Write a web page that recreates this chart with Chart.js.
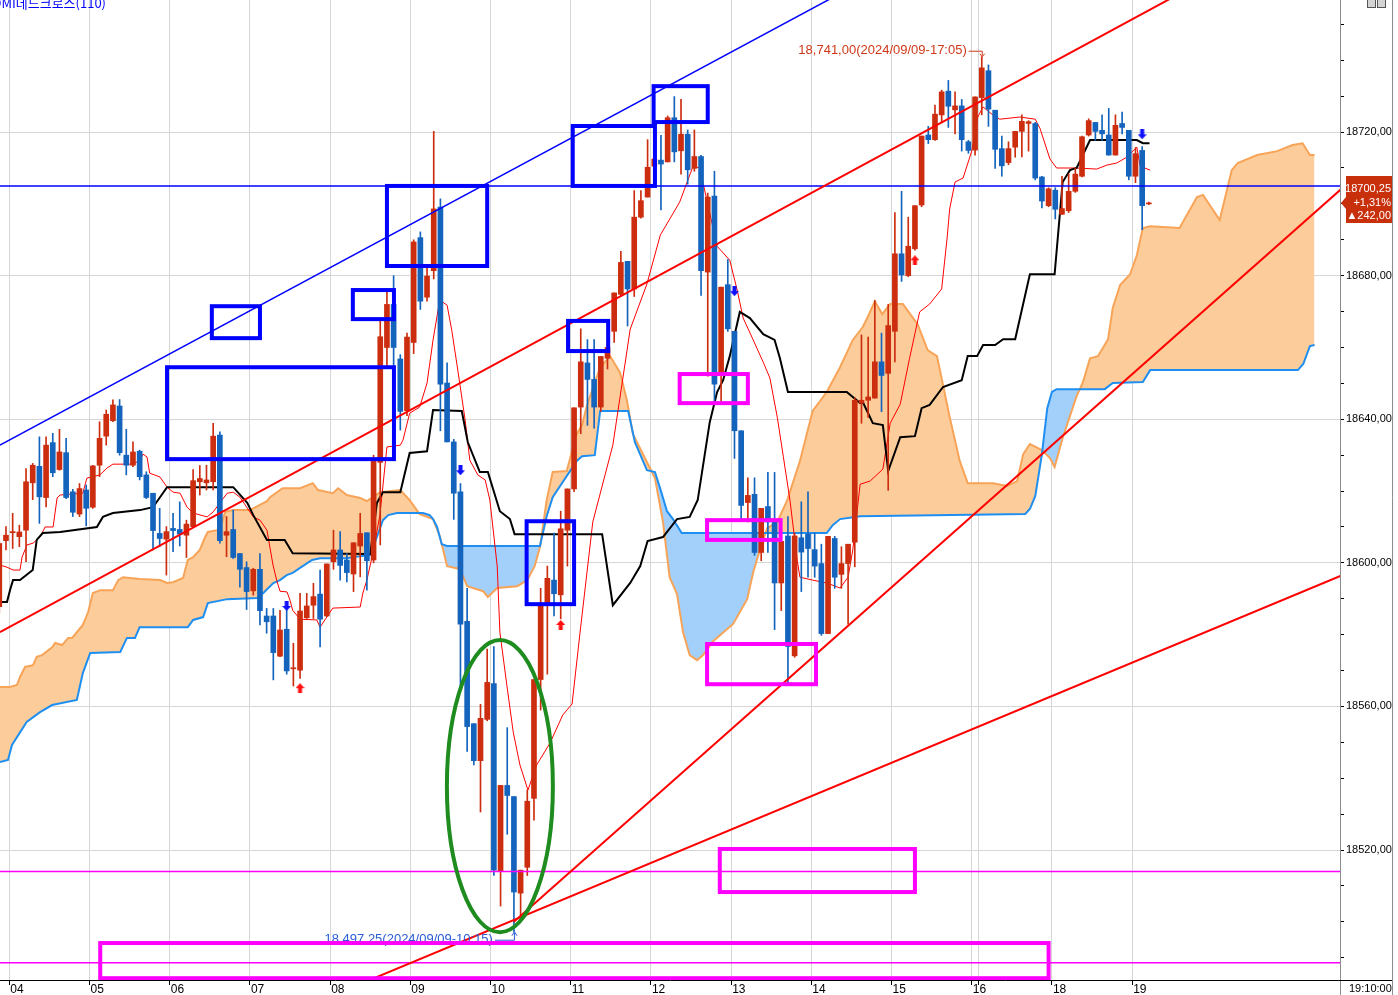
<!DOCTYPE html>
<html>
<head>
<meta charset="utf-8">
<script src="https://cdn.jsdelivr.net/npm/chart.js@4.4.1/dist/chart.umd.min.js"></script>
<style>
html, body { margin:0; padding:0; background:#fff; }
#wrap { position:relative; width:1398px; height:995px; }
</style>
</head>
<body>
<div id="wrap"><canvas id="chart"></canvas></div>
<script>
// 5-minute bars, index 0 = first visible bar
const opens = [18587.8,18606.2,18608.4,18607.3,18609.1,18622.3,18626.9,18618.2,18633.5,18626.0,18630.7,18619.8,18613.6,18620.3,18615.5,18627.2,18635.3,18639.6,18643.7,18630.0,
18627.2,18631.1,18624.5,18619.4,18608.2,18606.6,18609.6,18609.3,18607.7,18610.1,18622.6,18622.3,18622.6,18635.6,18607.7,18609.3,18602.6,18598.7,18592.2,18598.2,
18585.2,18585.2,18574.0,18581.5,18570.5,18570.1,18584.7,18588.2,18591.3,18585.2,18600.3,18603.6,18600.8,18596.9,18604.7,18608.4,18600.8,18628.0,18660.0,18672.0,
18656.8,18642.4,18661.4,18690.6,18674.0,18681.4,18699.1,18650.1,18633.7,18619.8,18583.7,18555.2,18544.9,18556.4,18566.4,18514.1,18538.0,18534.9,18508.0,18515.2,
18534.4,18567.5,18588.6,18595.2,18591.1,18609.1,18620.6,18643.4,18655.7,18651.1,18643.4,18657.0,18664.5,18674.8,18684.0,18676.3,18696.3,18701.9,18710.5,18712.2,
18711.7,18724.0,18714.8,18719.4,18709.9,18713.2,18681.0,18702.2,18652.6,18677.5,18664.5,18636.8,18616.8,18619.1,18602.9,18615.7,18611.4,18594.4,18607.5,18574.1,
18607.0,18608.0,18603.7,18599.8,18580.3,18606.8,18596.8,18599.8,18605.8,18644.5,18645.3,18645.9,18656.0,18652.8,18664.5,18686.1,18680.0,18687.5,18699.7,18719.2,
18717.9,18724.8,18731.4,18726.2,18727.3,18717.3,18715.0,18729.6,18737.1,18726.1,18715.4,18711.5,18715.8,18720.2,18722.4,18722.4,18707.5,18699.5,18703.8,18697.1,
18698.1,18703.5,18707.7,18719.2,18722.7,18720.5,18719.2,18713.6,18722.4,18720.5,18707.7,18714.9,18700.0]
const highs = [18606.0,18610.1,18613.8,18610.5,18626.3,18627.7,18635.1,18635.1,18636.1,18637.2,18634.7,18620.5,18622.1,18621.7,18627.2,18639.3,18642.6,18645.4,18645.5,18637.2,
18633.7,18631.4,18625.4,18619.4,18615.2,18610.1,18613.8,18617.0,18611.9,18626.0,18627.1,18627.2,18638.9,18636.5,18612.9,18614.7,18602.6,18600.3,18598.5,18602.6,
18587.3,18587.3,18586.8,18586.8,18577.6,18591.5,18591.5,18594.3,18598.0,18599.7,18609.1,18608.7,18602.6,18605.6,18613.8,18608.4,18630.0,18668.0,18676.0,18680.0,
18658.0,18664.0,18690.0,18692.2,18682.2,18720.2,18701.4,18655.7,18634.4,18622.1,18592.9,18555.2,18560.6,18576.0,18576.7,18538.0,18554.1,18534.9,18514.4,18536.7,
18567.5,18592.9,18599.1,18608.3,18614.4,18620.6,18643.2,18665.2,18662.2,18662.2,18657.5,18667.0,18675.2,18686.8,18684.0,18703.7,18703.7,18717.9,18722.0,18719.1,
18724.5,18729.9,18729.1,18720.6,18720.6,18713.5,18703.0,18709.1,18676.8,18684.5,18664.5,18636.8,18623.7,18623.7,18615.2,18625.2,18625.2,18606.0,18612.9,18608.3,
18617.0,18619.8,18608.3,18605.2,18607.4,18607.4,18604.5,18605.2,18646.0,18663.5,18662.9,18673.1,18664.0,18672.0,18697.6,18703.5,18696.3,18699.5,18718.9,18721.6,
18727.5,18731.7,18734.4,18731.2,18729.1,18717.7,18729.8,18741.0,18738.7,18726.1,18718.9,18717.3,18720.2,18724.8,18723.2,18722.7,18707.7,18704.5,18704.5,18707.7,
18708.3,18709.9,18718.9,18723.7,18722.7,18724.8,18726.6,18724.8,18725.6,18720.5,18715.7,18716.0,18700.5]
const lows = [18586.0,18603.6,18604.0,18604.5,18600.3,18617.6,18611.0,18615.6,18624.0,18625.8,18617.9,18612.9,18612.9,18610.3,18615.2,18624.0,18632.8,18639.3,18630.0,18624.5,
18626.8,18623.1,18617.9,18603.6,18604.5,18596.6,18603.1,18604.7,18601.5,18610.1,18618.9,18620.3,18620.3,18605.5,18601.7,18601.2,18593.2,18587.0,18591.0,18582.7,
18580.4,18567.4,18573.9,18569.0,18565.7,18567.8,18584.5,18584.5,18576.6,18585.0,18598.2,18595.2,18594.7,18592.0,18596.1,18592.4,18600.0,18605.0,18655.0,18655.0,
18637.0,18641.0,18658.3,18670.6,18672.9,18679.1,18636.8,18633.7,18612.1,18565.2,18547.5,18543.7,18530.6,18556.0,18512.9,18504.4,18524.4,18497.25,18500.6,18512.9,
18528.3,18559.0,18569.0,18585.2,18584.4,18599.1,18619.8,18636.0,18638.3,18637.5,18642.2,18654.0,18661.4,18674.2,18666.0,18674.2,18696.0,18701.9,18708.0,18698.3,
18711.7,18711.7,18708.3,18705.5,18709.1,18674.5,18652.0,18645.2,18645.2,18664.5,18629.1,18612.1,18611.4,18602.1,18600.6,18602.9,18581.4,18586.7,18566.0,18573.7,
18592.0,18596.0,18596.0,18579.8,18580.3,18592.9,18592.9,18582.9,18598.9,18638.9,18640.5,18645.9,18642.1,18620.2,18656.0,18678.4,18679.7,18687.1,18699.2,18716.8,
18717.7,18722.7,18721.3,18719.5,18714.7,18714.1,18713.6,18724.8,18721.6,18709.9,18707.7,18710.9,18713.0,18713.1,18714.7,18706.7,18698.9,18699.2,18695.8,18697.1,
18697.6,18703.2,18707.5,18718.9,18717.7,18717.7,18713.6,18713.6,18719.5,18706.7,18705.9,18692.8,18699.8]
const closes = [18605.4,18607.7,18608.7,18608.6,18622.6,18627.2,18618.4,18632.8,18625.1,18630.9,18618.2,18614.1,18620.7,18615.2,18627.0,18634.7,18641.4,18644.0,18630.7,18627.2,
18630.9,18624.0,18618.2,18609.0,18606.8,18608.7,18609.0,18608.0,18610.8,18622.9,18623.5,18623.1,18635.3,18606.2,18608.7,18601.5,18598.2,18592.0,18598.2,18586.7,
18583.6,18575.0,18581.3,18569.9,18570.7,18586.6,18588.0,18590.6,18584.3,18599.7,18603.6,18599.3,18597.3,18605.6,18608.2,18600.6,18628.3,18663.0,18672.0,18660.0,
18642.2,18662.9,18689.4,18672.9,18679.9,18698.6,18649.8,18633.7,18619.4,18582.9,18554.4,18544.9,18556.7,18566.7,18514.4,18538.0,18535.2,18508.3,18514.4,18533.6,
18567.5,18588.3,18595.7,18591.4,18609.5,18620.6,18643.2,18656.0,18651.1,18643.4,18657.5,18660.0,18675.2,18683.7,18676.3,18696.3,18700.9,18710.2,18712.5,18711.1,
18724.0,18714.5,18719.4,18709.5,18713.2,18681.4,18701.9,18649.8,18676.8,18665.2,18636.8,18616.0,18618.8,18602.9,18615.2,18611.4,18594.4,18606.0,18576.7,18607.5,
18603.0,18604.0,18599.1,18580.3,18607.4,18596.0,18599.8,18605.2,18645.3,18645.3,18646.2,18656.0,18652.2,18666.1,18686.1,18680.2,18688.2,18699.5,18718.9,18717.9,
18725.0,18731.2,18727.2,18727.3,18717.9,18714.9,18729.8,18737.9,18726.4,18715.2,18710.6,18715.4,18720.2,18723.0,18722.9,18707.2,18700.8,18704.2,18698.5,18698.7,
18703.5,18708.3,18718.7,18723.2,18720.2,18719.5,18713.6,18721.9,18721.3,18707.7,18714.0,18699.5,18700.25]

// hour marks on the bar index axis
const hourTicks = [1.5,13.5,25.5,37.5,49.5,61.5,73.5,85.5,97.5,109.5,121.5,133.5,145.5,146.5,157.5,169.5]
const hourLabels = ['04','05','06','07','08','09','10','11','12','13','14','15','16','','18','19']

// ichimoku lines as [bar, price]
const kijun = [[0.1,18589.1],[1.15,18589.1],[1.6,18592.4],[2.05,18595.2],[3.1,18595.2],[5.0,18598.0],[5.6,18606.4],[6.5,18608.3],[9.1,18608.6],[14.6,18610.0],
[15.5,18612.8],[17.0,18613.9],[21.05,18614.7],[23.0,18615.5],[25.1,18621.1],[35.0,18621.1],[37.1,18616.7],[38.0,18613.3],[40.05,18606.4],[42.7,18606.4],
[43.9,18602.7],[55.5,18602.5],[56.5,18616.7],[57.4,18619.7],[60.0,18619.7],[61.4,18630.6],[64.0,18631.1],[64.9,18642.6],[69.2,18642.3],[70.1,18633.6],
[71.9,18625.3],[73.1,18625.3],[74.9,18614.4],[76.4,18612.2],[77.1,18608.0],[90.2,18608.0],[91.8,18588.2],[94.4,18594.4],[95.9,18599.1],[97.0,18606.1],
[99.3,18607.2],[101.4,18612.2],[103.3,18612.8],[104.5,18617.5],[106.3,18639.2],[107.4,18647.6],[108.3,18650.9],[109.3,18657.6],[110.8,18669.9],[112.3,18668.2],
[114.3,18663.7],[116.0,18662.1],[116.8,18657.0],[118.0,18647.6],[126.8,18647.6],[128.8,18644.5],[129.2,18644.8],[130.7,18638.9],[132.2,18638.4],[133.0,18625.6],
[134.8,18635.0],[137.0,18635.3],[138.0,18643.1],[139.2,18644.0],[141.2,18649.0],[144.0,18650.9],[144.9,18657.6],[146.3,18657.6],[147.2,18660.7],[149.0,18660.7],
[150.2,18662.3],[152.0,18662.3],[154.2,18680.4],[157.9,18680.4],[159.1,18706.1],[160.2,18709.4],[161.2,18710.0],[163.2,18717.8],[170.2,18717.8],[171.1,18716.9],[172.1,18716.9]]

const tenkan = [[0.1,18599.4],[1.15,18598.8],[2.05,18598.0],[3.1,18598.0],[3.4,18601.6],[4.15,18605.0],[5.05,18605.5],[6.1,18607.2],[6.85,18610.0],[8.05,18610.0],
[8.65,18618.1],[9.1,18618.9],[12.5,18619.4],[13.1,18623.6],[15.05,18624.5],[16.1,18626.4],[17.0,18627.5],[20.0,18627.5],[21.05,18628.6],[21.5,18630.3],
[22.1,18629.5],[22.5,18625.0],[24.05,18623.9],[25.1,18621.1],[26.0,18619.7],[27.05,18619.4],[28.1,18615.5],[29.0,18613.9],[31.1,18612.8],[32.0,18614.2],
[33.0,18616.7],[34.1,18619.4],[35.0,18619.7],[36.0,18618.3],[37.1,18615.3],[38.0,18612.8],[39.0,18611.9],[40.05,18609.1],[40.95,18599.4],[41.5,18595.2],
[42.0,18592.1],[43.05,18591.9],[43.5,18589.6],[43.9,18586.8],[45.0,18584.3],[47.5,18584.1],[48.0,18582.1],[49.0,18584.9],[49.9,18587.4],[54.0,18587.7],
[54.4,18591.6],[55.0,18595.2],[55.9,18602.7],[56.95,18613.3],[58.0,18632.3],[60.0,18632.8],[60.4,18634.2],[61.4,18641.7],[62.9,18643.4],[64.0,18650.1],
[64.9,18662.1],[65.9,18673.2],[67.0,18671.8],[67.7,18664.8],[68.6,18653.7],[69.7,18639.8],[70.4,18628.6],[71.6,18624.5],[72.7,18623.1],[73.4,18617.5],
[74.5,18599.1],[74.9,18580.7],[76.0,18565.1],[76.9,18552.8],[77.9,18543.7],[79.1,18536.7],[80.4,18543.7],[82.4,18549.8],[84.3,18557.6],[85.7,18560.7],
[86.9,18580.7],[88.8,18611.4],[91.8,18632.8],[94.4,18665.1],[96.9,18677.7],[98.9,18691.3],[101.8,18700.5],[103.8,18710.5],[104.8,18710.0],[107.4,18688.2],
[109.3,18684.3],[110.4,18676.0],[111.3,18668.2],[112.8,18662.1],[114.3,18655.9],[115.3,18651.5],[116.4,18640.6],[117.3,18629.7],[118.3,18617.5],[119.4,18600.5],
[119.8,18596.0],[121.7,18595.2],[123.8,18594.4],[125.8,18593.0],[127.0,18596.0],[127.7,18603.6],[128.8,18621.9],[130.3,18622.8],[132.2,18626.1],[133.3,18638.9],
[134.8,18644.2],[136.2,18657.0],[137.7,18669.9],[139.2,18672.1],[141.0,18676.3],[141.8,18690.2],[142.2,18698.6],[143.0,18706.1],[144.2,18707.2],[145.5,18714.7],
[146.4,18724.2],[147.2,18727.0],[148.7,18724.7],[149.7,18723.6],[152.7,18724.2],[155.0,18723.6],[155.7,18721.1],[157.2,18712.5],[158.2,18710.0],[161.2,18710.0],
[164.2,18709.7],[165.7,18710.8],[167.2,18711.4],[168.7,18713.0],[170.2,18715.8],[170.7,18710.5],[172.2,18709.4]]

const spanA = [[0.1,18565.4],[1.6,18565.4],[2.65,18566.0],[3.1,18568.2],[3.85,18571.0],[5.05,18571.5],[5.6,18573.8],[6.4,18574.3],[7.9,18576.5],[8.35,18577.7],
[9.4,18577.1],[10.3,18579.1],[10.9,18579.1],[12.5,18582.7],[13.3,18586.3],[14.0,18591.6],[15.1,18592.4],[17.0,18592.4],[17.8,18595.2],[18.5,18596.0],
[21.05,18595.5],[24.05,18595.2],[25.1,18594.4],[26.0,18594.6],[27.5,18595.8],[28.2,18600.8],[29.0,18601.6],[30.0,18603.6],[30.8,18607.2],[31.2,18608.6],
[32.6,18609.1],[33.3,18611.1],[33.8,18614.2],[35.0,18614.7],[37.5,18614.7],[40.05,18617.2],[40.5,18618.3],[42.4,18620.8],[45.0,18620.8],[46.9,18622.2],
[47.7,18620.3],[49.9,18619.4],[50.7,18620.8],[52.0,18618.9],[54.0,18618.1],[55.0,18617.2],[57.0,18619.7],[60.0,18620.3],[61.4,18617.5],[62.9,18613.6],
[64.9,18612.2],[65.9,18607.5],[67.0,18599.1],[68.9,18598.3],[70.0,18593.5],[72.4,18592.1],[73.1,18590.5],[74.5,18593.0],[77.5,18593.5],[79.0,18595.2],
[80.1,18599.1],[80.9,18604.4],[81.9,18617.5],[82.8,18625.3],[84.9,18625.6],[86.4,18635.9],[87.2,18638.4],[87.9,18643.7],[89.9,18654.5],[91.4,18657.6],
[92.9,18652.9],[93.9,18645.3],[94.8,18635.9],[98.1,18623.6],[99.3,18611.4],[100.3,18596.0],[101.4,18591.3],[102.3,18580.7],[103.3,18574.3],[104.4,18572.9],
[105.3,18574.3],[106.8,18578.2],[109.8,18583.0],[111.9,18589.9],[112.8,18597.4],[113.8,18603.6],[114.9,18609.7],[116.4,18611.4],[117.9,18617.5],[119.8,18628.4],
[121.7,18642.3],[123.8,18647.6],[125.8,18654.5],[127.7,18662.1],[129.2,18665.7],[130.0,18668.7],[131.0,18672.9],[132.1,18669.3],[133.3,18672.1],[135.2,18672.1],
[137.4,18666.5],[138.9,18659.3],[140.3,18657.6],[142.2,18640.6],[143.7,18628.4],[144.9,18622.2],[148.7,18622.2],[150.8,18621.4],[152.3,18622.8],[153.2,18630.3],
[154.2,18633.1],[156.0,18631.4],[157.2,18629.2],[157.9,18626.7],[159.1,18634.8],[161.2,18646.5],[162.1,18650.1],[163.2,18657.0],[164.4,18657.6],[165.9,18662.3],
[166.6,18671.0],[167.7,18677.4],[169.2,18680.4],[170.2,18685.7],[171.1,18693.3],[172.2,18693.8],[176.6,18693.3],[179.2,18701.9],[180.1,18702.5],[182.6,18695.5],
[184.4,18709.4],[185.3,18711.4],[188.2,18713.6],[191.2,18714.7],[193.5,18716.4],[195.0,18716.9],[196.1,18713.6],[196.8,18713.6]]

const spanB = [[0.1,18544.5],[1.3,18545.1],[1.9,18549.3],[4.1,18555.7],[6.1,18558.4],[7.9,18560.4],[11.6,18561.8],[12.5,18569.3],[13.6,18574.9],[18.1,18575.2],
[19.1,18579.1],[20.3,18579.1],[21.0,18582.1],[28.2,18582.1],[29.0,18584.1],[30.5,18584.9],[31.2,18588.8],[34.1,18589.9],[38.6,18590.2],[39.5,18591.6],
[41.0,18594.4],[42.0,18595.2],[43.0,18596.6],[43.9,18597.2],[45.0,18598.6],[46.8,18600.8],[48.0,18601.3],[52.0,18601.3],[52.9,18601.6],[55.5,18602.2],
[56.5,18607.2],[57.4,18611.9],[58.2,18613.3],[59.5,18613.9],[63.4,18613.9],[64.4,18613.3],[64.9,18612.2],[65.5,18610.0],[66.2,18605.2],[67.0,18604.7],
[80.9,18604.7],[81.9,18613.0],[82.8,18618.3],[86.4,18628.4],[87.2,18629.7],[89.1,18630.0],[89.9,18642.3],[94.1,18642.3],[95.1,18633.6],[96.9,18625.8],
[98.1,18625.3],[98.9,18620.6],[99.9,18614.4],[100.8,18612.2],[102.1,18608.3],[123.8,18608.3],[124.7,18610.5],[125.8,18612.2],[128.8,18613.0],[153.5,18613.6],
[154.2,18615.0],[155.0,18618.6],[156.0,18630.3],[156.8,18643.1],[157.5,18647.6],[158.2,18648.4],[165.4,18648.4],[166.6,18650.1],[171.1,18650.4],[172.2,18653.7],
[194.3,18653.7],[195.1,18655.4],[196.1,18660.4],[196.8,18660.7]]

// signal arrows [bar, price]
const buyMarks = [[45,18565.1],[84,18582.7],[137,18684.3]]
const sellMarks = [[43,18588.0],[69,18625.8],[110,18675.7],[171,18719.4]]

// drawn objects [bar, price]
const blueTrend = [[0.1,18632.8],[130,18762.8]]
const redTrendTop = [[0.1,18580.7],[180,18762.0]]
const redTrendSteep = [[77,18500.0],[201,18704.5]]
const redTrendLow = [[50,18479.6],[201,18596.6]]
const blueLevel = 18705.0
const pinkLevels = [18514.0, 18488.6]
const blueBoxes = [[31.8,18671.5,39.0,18662.6],[52.9,18676.0,59.05,18667.9],[25.1,18654.5,59.05,18628.9],[58.0,18705.0,73.0,18682.7],
[85.8,18721.7,98.1,18705.0],[97.9,18732.8,106.0,18722.8],[85.1,18667.4,91.1,18659.0],[78.9,18611.6,86.0,18588.5]]
const pinkBoxes = [[101.8,18652.6,112.0,18644.5],[105.9,18611.9,116.9,18606.4],[105.9,18577.4,122.2,18566.2],[107.8,18520.3,137.0,18508.3],[15.1,18494.1,157.0,18484.3]]
const greenEllipse = [74.9, 18537.8, 7.93, 40.7]   // center bar, center price, half width (bars), half height (points)

const highMark = [147, 18741.00, '18,741,00(2024/09/09-17:05)']
const lowMark = [77, 18497.25, '18,497,25(2024/09/09-10:15)']
const lastPrice = 18700.25
const lastChange = ['+1,31%', '▲242,00']

const RED = '#cd2d0f'
const BLUE = '#1464be'
const AXIS_FONT = { family: '"Liberation Sans", Arial, sans-serif', size: 11 }

const idx = opens.map((_, i) => i)
const candleColor = idx.map(i => closes[i] >= opens[i] ? RED : BLUE)
const pts = arr => arr.map(p => ({ x: p[0], y: p[1] }))
const fmt = v => v.toFixed(2).replace('.', ',')

// block arrow used as point style
function arrowIcon(color, down) {
    const c = document.createElement('canvas')
    c.width = 9; c.height = 10
    const g = c.getContext('2d')
    if (down) { g.setTransform(1, 0, 0, -1, 0, 10) }
    g.fillStyle = color
    g.beginPath()
    g.moveTo(4.5, 0); g.lineTo(9, 5); g.lineTo(6.5, 5); g.lineTo(6.5, 10)
    g.lineTo(2.5, 10); g.lineTo(2.5, 5); g.lineTo(0, 5); g.closePath()
    g.fill()
    return c
}

const overlay = {
    id: 'overlay',
    afterDatasetsDraw(chart) {
        const { ctx, chartArea: a, scales: { x, y } } = chart
        ctx.save()
        ctx.beginPath()
        ctx.rect(a.left, a.top, a.width, a.height)
        ctx.clip()

        // low label
        const lx = x.getPixelForValue(lowMark[0])
        const ly = y.getPixelForValue(lowMark[1])
        ctx.font = '13px "Liberation Sans", Arial, sans-serif'
        ctx.fillStyle = '#2a5cd6'
        ctx.strokeStyle = '#2a5cd6'
        ctx.lineWidth = 1
        ctx.textAlign = 'right'
        ctx.textBaseline = 'middle'
        ctx.fillText(lowMark[2], lx - 21, ly + 8)
        ctx.beginPath()
        ctx.moveTo(lx - 19, ly + 8.5); ctx.lineTo(lx + 0.5, ly + 8.5); ctx.lineTo(lx + 0.5, ly + 1)
        ctx.stroke()
        ctx.beginPath()
        ctx.moveTo(lx - 2, ly + 4); ctx.lineTo(lx + 0.5, ly); ctx.lineTo(lx + 3, ly + 4)
        ctx.stroke()

        // high label
        const hx = x.getPixelForValue(highMark[0])
        const hy = y.getPixelForValue(highMark[1])
        ctx.fillStyle = '#d03818'
        ctx.strokeStyle = '#d03818'
        ctx.fillText(highMark[2], hx - 15, hy - 6)
        ctx.beginPath()
        ctx.moveTo(hx - 13, hy - 5.5); ctx.lineTo(hx + 0.5, hy - 5.5); ctx.lineTo(hx + 0.5, hy - 1)
        ctx.stroke()
        ctx.beginPath()
        ctx.moveTo(hx - 2, hy - 3); ctx.lineTo(hx + 0.5, hy); ctx.lineTo(hx + 3, hy - 3)
        ctx.stroke()

        // boxes
        ctx.lineJoin = 'miter'
        ctx.lineWidth = 4
        const box = (b, color) => {
            const x1 = x.getPixelForValue(b[0]), y1 = y.getPixelForValue(b[1])
            const x2 = x.getPixelForValue(b[2]), y2 = y.getPixelForValue(b[3])
            ctx.strokeStyle = color
            ctx.strokeRect(x1, y1, x2 - x1, y2 - y1)
        }
        blueBoxes.forEach(b => box(b, '#0000ff'))
        pinkBoxes.forEach(b => box(b, '#ff00ff'))

        // ellipse
        const cx = x.getPixelForValue(greenEllipse[0])
        const cy = y.getPixelForValue(greenEllipse[1])
        const rx = x.getPixelForValue(greenEllipse[0] + greenEllipse[2]) - cx
        const ry = cy - y.getPixelForValue(greenEllipse[1] + greenEllipse[3])
        ctx.beginPath()
        ctx.ellipse(cx, cy, rx, ry, 0, 0, Math.PI * 2)
        ctx.strokeStyle = '#1f8c1f'
        ctx.lineWidth = 4
        ctx.stroke()
        ctx.restore()
    },
    afterDraw(chart) {
        const { ctx, chartArea: a, scales: { y } } = chart
        const W = chart.width, H = chart.height
        ctx.save()

        // frame lines around the price axis
        ctx.strokeStyle = '#8c8c8c'
        ctx.lineWidth = 1
        ctx.beginPath()
        ctx.moveTo(a.right + 0.5, 0); ctx.lineTo(a.right + 0.5, H)
        ctx.moveTo(W - 5.5, 0); ctx.lineTo(W - 5.5, H)
        ctx.stroke()
        ctx.strokeStyle = '#000'
        ctx.beginPath()
        ctx.moveTo(a.right, a.bottom + 0.5); ctx.lineTo(W - 6, a.bottom + 0.5)
        ctx.stroke()

        // time stamp
        ctx.fillStyle = '#000'
        ctx.font = '11px "Liberation Sans", Arial, sans-serif'
        ctx.textAlign = 'left'
        ctx.textBaseline = 'alphabetic'
        ctx.fillText('19:10:00', a.right + 9, H - 3)

        // last price tag
        const py = Math.round(y.getPixelForValue(lastPrice))
        const l = a.right + 1, r = W - 6
        ctx.fillStyle = '#c8300c'
        ctx.beginPath()
        ctx.moveTo(l, py); ctx.lineTo(l + 5, py - 6); ctx.lineTo(l + 5, py - 27)
        ctx.lineTo(r, py - 27); ctx.lineTo(r, py + 20); ctx.lineTo(l + 5, py + 20)
        ctx.lineTo(l + 5, py + 6); ctx.closePath()
        ctx.fill()
        ctx.fillStyle = '#fff'
        ctx.textAlign = 'right'
        ctx.textBaseline = 'middle'
        ctx.fillText(fmt(lastPrice), r - 1, py - 14)
        ctx.fillText(lastChange[0], r - 1, py)
        ctx.fillText(lastChange[1], r - 1, py + 13)

        // window buttons
        ctx.fillStyle = '#d4d4d4'
        ctx.strokeStyle = '#555'
        ctx.fillRect(W - 31, 0, 9, 8); ctx.strokeRect(W - 30.5, -0.5, 8, 8)
        ctx.fillRect(W - 21, 0, 9, 8); ctx.strokeRect(W - 20.5, -0.5, 8, 8)

        // indicator caption
        ctx.fillStyle = '#0000ff'
        ctx.font = '13px "Noto Sans CJK KR", sans-serif'
        ctx.textAlign = 'right'
        ctx.textBaseline = 'middle'
        ctx.fillText('DMI데드크로스(110)', 106, 3)
        ctx.restore()
    }
}

const lineSet = (data, color, width, order, extra) => Object.assign({
    type: 'line', data: pts(data), borderColor: color, borderWidth: width,
    pointRadius: 0, tension: 0, fill: false, order: order
}, extra || {})

const yTicks = []
for (let v = 18490; v <= 18750; v += 10) yTicks.push({ value: v })

new Chart(document.getElementById('chart'), {
    type: 'bar',
    data: {
        datasets: [
            lineSet(spanA, '#f7a458', 2, 10, { fill: { target: 1, above: '#fccd9a', below: '#a3d0fb' } }),
            lineSet(spanB, '#1e8ff0', 2, 9),
            lineSet(kijun, '#000000', 2, 5),
            lineSet(tenkan, '#ff0000', 1, 5),
            {
                type: 'bar',
                data: idx.map(i => ({ x: i, y: [lows[i], highs[i]] })),
                backgroundColor: candleColor,
                barThickness: 1, grouped: false, minBarLength: 1, order: 2
            },
            {
                type: 'bar',
                data: idx.map(i => ({ x: i, y: [opens[i], closes[i]] })),
                backgroundColor: candleColor,
                barThickness: 5, grouped: false, minBarLength: 1, order: 1
            },
            {
                type: 'line', data: pts(buyMarks), showLine: false,
                pointStyle: arrowIcon('#ff1010', false), order: 0
            },
            {
                type: 'line', data: pts(sellMarks), showLine: false,
                pointStyle: arrowIcon('#1010ff', true), order: 0
            },
            lineSet(blueTrend, '#0000ff', 1.5, -1),
            lineSet(redTrendTop, '#ff0000', 2, -1),
            lineSet(redTrendSteep, '#ff0000', 2, -1),
            lineSet(redTrendLow, '#ff0000', 2, -1),
            lineSet([[0, blueLevel], [201, blueLevel]], '#0000ff', 1.5, -1),
            lineSet([[0, pinkLevels[0]], [201, pinkLevels[0]]], '#ff00ff', 1.5, -1),
            lineSet([[0, pinkLevels[1]], [201, pinkLevels[1]]], '#ff00ff', 1.5, -1)
        ]
    },
    options: {
        responsive: true,
        maintainAspectRatio: false,
        animation: false,
        layout: { padding: 0, autoPadding: false },
        plugins: { legend: { display: false }, tooltip: { enabled: false } },
        scales: {
            x: {
                type: 'linear', min: 0.105, max: 200.6, offset: false,
                afterBuildTicks: s => { s.ticks = hourTicks.map(v => ({ value: v })) },
                afterFit: s => { s.height = 15; s.paddingLeft = 0; s.paddingRight = 0 },
                grid: { color: '#d6d6d6', offset: false, tickLength: 5, tickColor: '#000' },
                border: { color: '#000' },
                ticks: {
                    autoSkip: false, maxRotation: 0, align: 'start', padding: -3, labelOffset: 1,
                    color: '#000', font: { family: AXIS_FONT.family, size: 12 },
                    callback: (v, i) => hourLabels[i]
                }
            },
            y: {
                type: 'linear', position: 'right', min: 18483.8, max: 18756.8,
                afterBuildTicks: s => { s.ticks = yTicks.slice() },
                afterFit: s => { s.width = 58; s.paddingTop = 0; s.paddingBottom = 0 },
                grid: {
                    color: c => (c.tick && Math.round(c.tick.value) % 40 === 0) ? '#d6d6d6' : 'rgba(0,0,0,0)',
                    tickLength: 4, tickColor: '#000'
                },
                border: { color: '#8c8c8c' },
                ticks: {
                    padding: 2, color: '#000', font: AXIS_FONT,
                    callback: v => Math.round(v) % 40 === 0 ? fmt(v) : ''
                }
            }
        }
    },
    plugins: [overlay]
})
</script>
</body>
</html>
